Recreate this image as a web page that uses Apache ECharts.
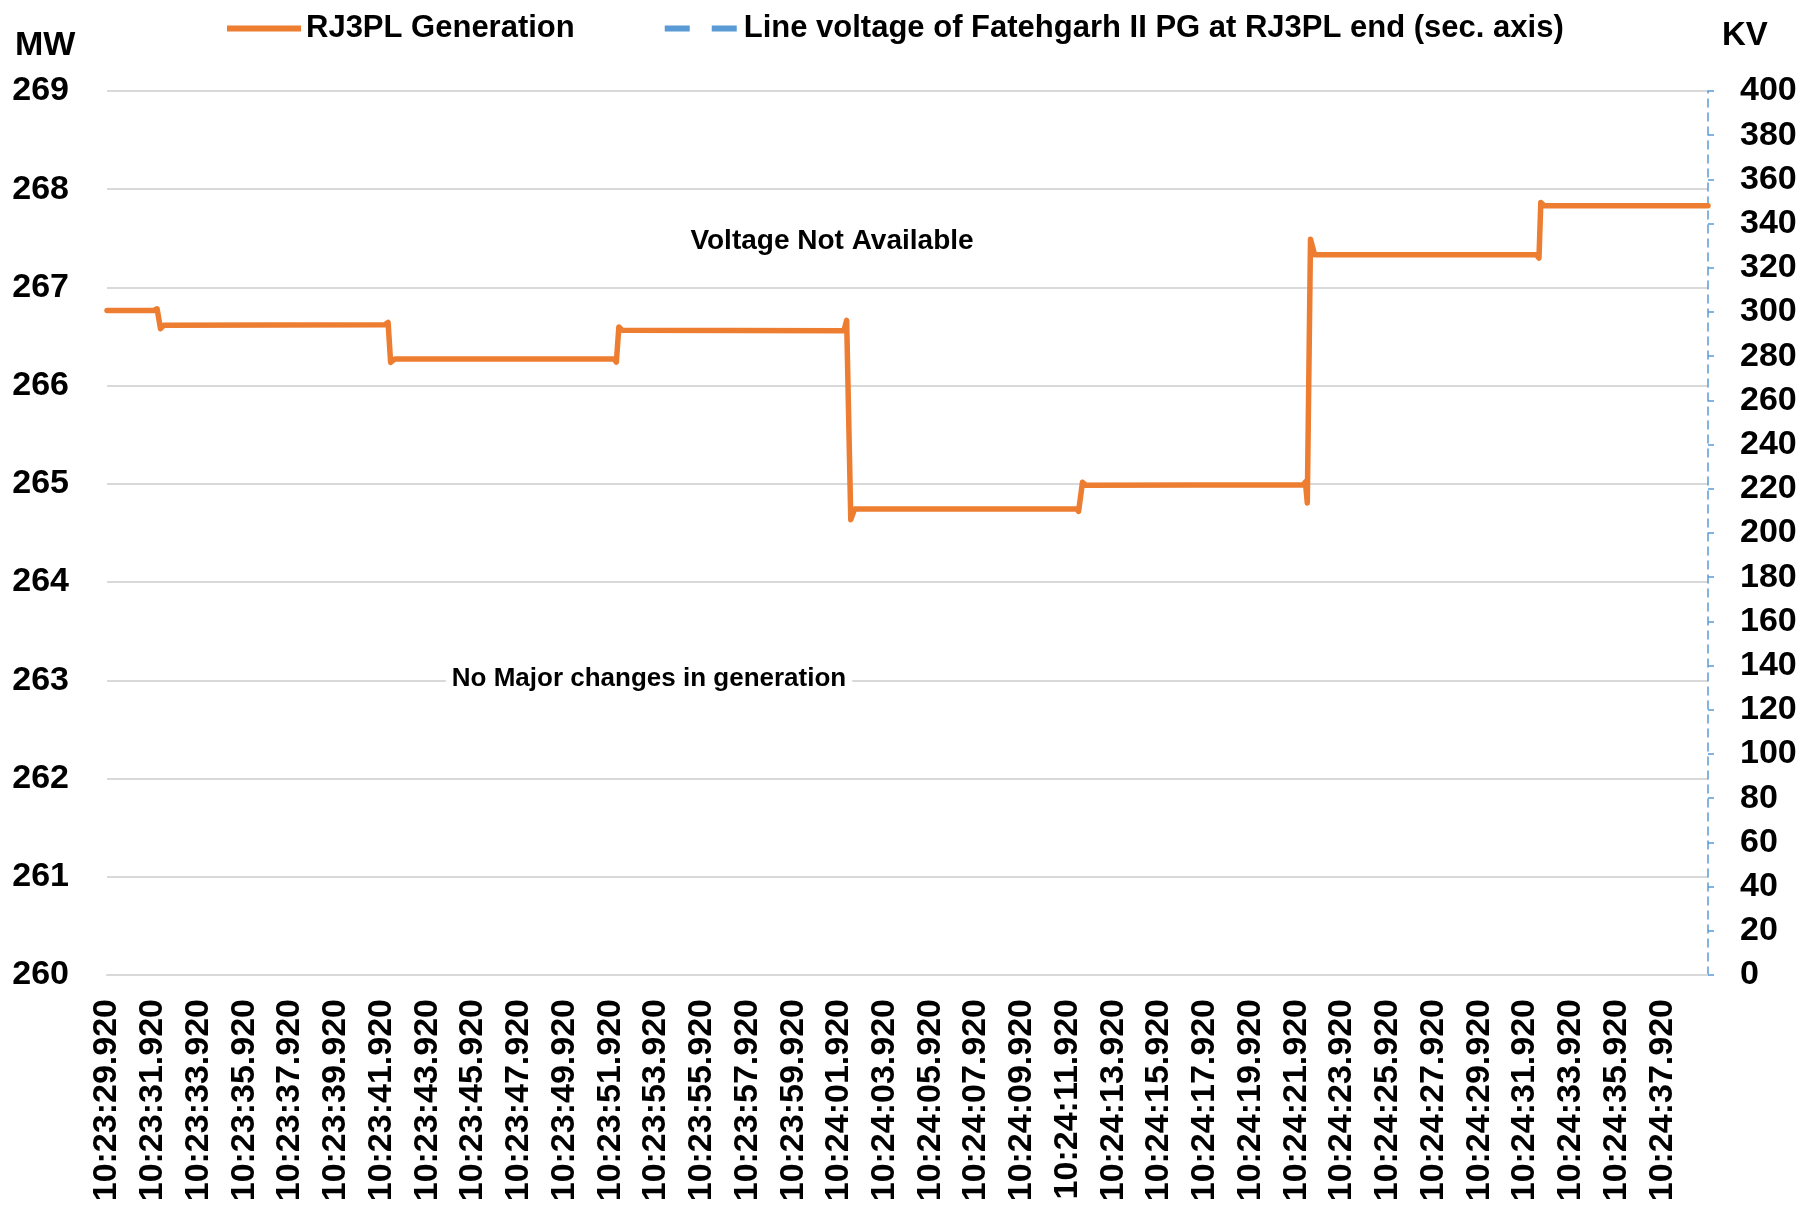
<!DOCTYPE html>
<html>
<head>
<meta charset="utf-8">
<script src="https://cdn.jsdelivr.net/npm/echarts@6/dist/echarts.min.js"></script>
<style>
  html, body { margin: 0; padding: 0; background: #fff; }
  #chart { width: 1812px; height: 1217px; }
</style>
</head>
<body>
<div id="chart"></div>
<script>
// tick labels of the time axis (every 2 s)
const xLabels = [
  "10:23:29.920", "10:23:31.920", "10:23:33.920", "10:23:35.920", "10:23:37.920",
  "10:23:39.920", "10:23:41.920", "10:23:43.920", "10:23:45.920", "10:23:47.920",
  "10:23:49.920", "10:23:51.920", "10:23:53.920", "10:23:55.920", "10:23:57.920",
  "10:23:59.920", "10:24:01.920", "10:24:03.920", "10:24:05.920", "10:24:07.920",
  "10:24:09.920", "10:24:11.920", "10:24:13.920", "10:24:15.920", "10:24:17.920",
  "10:24:19.920", "10:24:21.920", "10:24:23.920", "10:24:25.920", "10:24:27.920",
  "10:24:29.920", "10:24:31.920", "10:24:33.920", "10:24:35.920", "10:24:37.920"
];

// seconds after 10:23:29.920
const genSeconds = [
  0, 2.05, 2.19, 2.34, 2.48,
  12.15, 12.29, 12.40, 12.59,
  22.17, 22.27, 22.38, 22.53,
  32.22, 32.34, 32.52, 32.69,
  42.40, 42.48, 42.65, 42.80,
  52.30, 52.40, 52.48, 52.62, 52.80,
  62.50, 62.61, 62.69, 62.84,
  70
];
// RJ3PL generation, MW
const genMW = [
  266.765, 266.765, 266.783, 266.58, 266.614,
  266.62, 266.645, 266.237, 266.272,
  266.272, 266.24, 266.598, 266.563,
  266.56, 266.665, 264.636, 264.745,
  264.745, 264.72, 265.016, 264.985,
  264.99, 265.02, 264.806, 267.49, 267.333,
  267.333, 267.30, 267.866, 267.832,
  267.832
];
// line voltage (kV) - not available
const voltageKV = [];

const font = '"Liberation Sans", Arial, sans-serif';

const chart = echarts.init(document.getElementById("chart"));
chart.setOption({
  animation: false,
  backgroundColor: "#fff",
  grid: {
    left: 107,
    right: 104,
    top: 91,
    bottom: 242,
    containLabel: false,
    outerBoundsMode: "none",
  },
  legend: {
    left: 222,
    top: 8,
    itemWidth: 74,
    itemHeight: 6,
    itemGap: 90,
    textStyle: {
      fontFamily: font,
      fontWeight: "bold",
      fontSize: 31,
      color: "#000",
    },
    data: [
      { name: "RJ3PL Generation", icon: "path://M0,0H74V6H0Z" },
      {
        name: "Line voltage of Fatehgarh II PG at RJ3PL end (sec. axis)",
        icon: "path://M0,0H25V6H0Z M47,0H72V6H47Z M73.99,0H74V0.01H73.99Z",
      },
    ],
  },
  xAxis: {
    type: "value",
    min: 0,
    max: 70,
    interval: 2,
    axisLine: { show: true, lineStyle: { color: "#D9D9D9", width: 2 } },
    axisTick: { show: false },
    splitLine: { show: false },
    axisLabel: {
      rotate: 90,
      margin: 24,
      fontFamily: font,
      fontWeight: "bold",
      fontSize: 34,
      color: "#000",
      showMaxLabel: false,
      formatter: (v) => xLabels[Math.round(v / 2)] || "",
    },
  },
  yAxis: [
    {
      type: "value",
      min: 260,
      max: 269,
      interval: 1,
      axisLine: { show: false },
      axisTick: { show: false },
      splitLine: { lineStyle: { color: "#D9D9D9", width: 2 } },
      axisLabel: {
        margin: 38,
        fontFamily: font,
        fontWeight: "bold",
        fontSize: 34,
        color: "#000",
      },
    },
    {
      type: "value",
      position: "right",
      min: 0,
      max: 400,
      interval: 20,
      axisLine: { show: true, lineStyle: { color: "#5B9BD5", width: 1.5, type: [8, 6] } },
      axisTick: { show: true, length: 6, lineStyle: { color: "#5B9BD5", width: 1.5 } },
      splitLine: { show: false },
      axisLabel: {
        margin: 32,
        fontFamily: font,
        fontWeight: "bold",
        fontSize: 34,
        color: "#000",
      },
    },
  ],
  graphic: [
    { type: "text", x: 15, y: 46, style: { text: "MW", font: "bold 34px " + font, fill: "#000", verticalAlign: "middle" } },
    { type: "text", x: 1722, y: 36, style: { text: "KV", font: "bold 33px " + font, fill: "#000", verticalAlign: "middle" } },
    {
      type: "text", x: 832, y: 241, z: 10,
      style: { text: "Voltage Not Available", font: "bold 28px " + font, fill: "#000", align: "center", verticalAlign: "middle" },
    },
    {
      type: "text", x: 649, y: 679, z: 10,
      style: {
        text: "No Major changes in generation", font: "bold 26px " + font, fill: "#000",
        align: "center", verticalAlign: "middle", backgroundColor: "#fff", padding: [4, 6],
      },
    },
  ],
  series: [
    {
      name: "RJ3PL Generation",
      type: "line",
      yAxisIndex: 0,
      symbol: "none",
      smooth: false,
      lineStyle: { color: "#ED7D31", width: 5.5, cap: "round", join: "round" },
      itemStyle: { color: "#ED7D31" },
      data: genSeconds.map((t, i) => [t, genMW[i]]),
    },
    {
      name: "Line voltage of Fatehgarh II PG at RJ3PL end (sec. axis)",
      type: "line",
      yAxisIndex: 1,
      symbol: "none",
      lineStyle: { color: "#5B9BD5", width: 5, type: [18, 14], cap: "round" },
      itemStyle: { color: "#5B9BD5" },
      data: voltageKV,
    },
  ],
});
</script>
</body>
</html>
